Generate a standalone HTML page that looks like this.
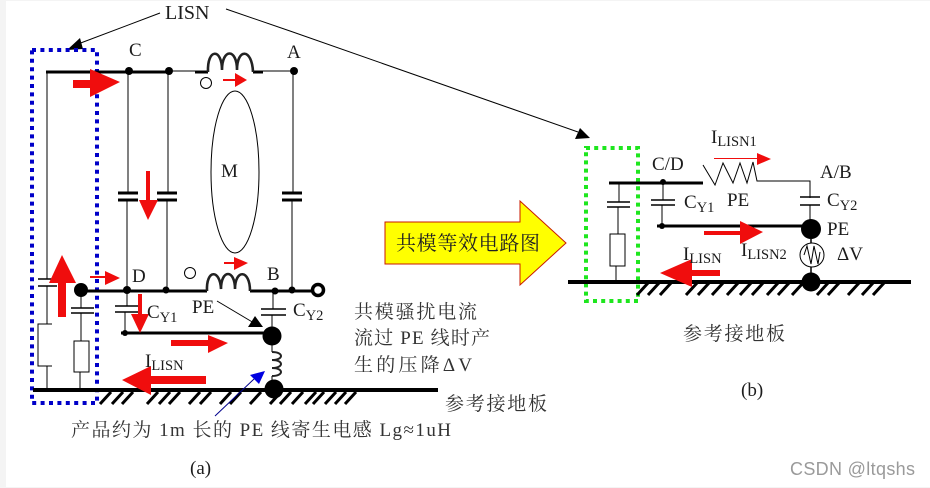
<!DOCTYPE html>
<html>
<head>
<meta charset="utf-8">
<style>
html,body{margin:0;padding:0;background:#fff;width:930px;height:488px;overflow:hidden}
svg{display:block}
text{font-family:"Liberation Serif","Noto Serif CJK SC",serif;fill:#1c1c1c}
.cn{font-size:19px;fill:#333}
.lb{font-size:19px}
.sub{font-size:14.5px}
</style>
</head>
<body>
<svg width="930" height="488" viewBox="0 0 930 488" xmlns="http://www.w3.org/2000/svg">
<rect width="930" height="488" fill="#fff"/>
<rect x="0" y="0" width="6" height="488" fill="#f4f4f4"/>
<rect x="0" y="0" width="930" height="1" fill="#f4f4f4"/>
<rect x="0" y="487" width="930" height="1" fill="#f4f4f4"/>

<!-- LISN pointers -->
<g fill="none" stroke="#000" stroke-width="1">
<path d="M160 13L78 44"/>
<path d="M226 9L290 31L578 132"/>
<path d="M128 71V192M127 201V290M168 71V192M167 201V290M293 71V192M292 201V290"/>
<path d="M47 72V279M47 286V324H38V366H47V388"/>
<path d="M47 324H52M47 366H52" stroke-width="1"/>
<path d="M81 291V308M81 313V341M80 372V388"/>
<path d="M127 291V306M125 312V333M273 291V309M272 315V330M272 344V352M272 376V382"/>
<path d="M168 71H195M253 71H294"/>
<ellipse cx="235" cy="172" rx="24" ry="81"/>
<circle cx="206" cy="83" r="5.5"/>
<circle cx="190" cy="273" r="5.5"/>
<rect x="74" y="341" width="15" height="31"/>
<path d="M217 301L254 323"/>
<path d="M38 279H57M38 286H57M71 308H94M71 313H94M115 306H139M115 312H139M261 309H286M261 315H286" stroke-width="1.5"/>
</g>
<path d="M67 50L80 38L83 49Z" fill="#000"/>
<path d="M590 138L580 128L575 139Z" fill="#000"/>

<!-- Blue dotted -->
<rect x="32" y="50" width="65" height="353" fill="none" stroke="#0000c8" stroke-width="4" stroke-dasharray="4 4.4"/>

<!-- Thick wires left -->
<g fill="none" stroke="#000" stroke-width="3">
<path d="M46 72H168"/>
<path d="M195 72H208M253 72H263"/>
<path d="M81 291H207M250 291H263" />
<path d="M263 291H312"/>
<path d="M121 333H270"/>
<path d="M33 390H438" stroke-width="4"/>
<path d="M118 193H138M118 200H138M157 193H177M157 200H177M282 193H302M282 200H302" stroke-width="3"/>
</g>
<g fill="none" stroke="#222" stroke-width="2.6">
<path d="M208 72C207 48 222 48 222 70C222 48 237 48 237 70C237 48 252 48 253 72"/>
<path d="M207 291C206 269 220 269 221 289C221 269 235 269 235 289C235 269 250 269 250 291"/>
<path d="M272 352C284 352 284 360 272 360C284 360 284 368 272 368C284 368 284 376 272 376" stroke-width="2"/>
</g>
<circle cx="318" cy="290" r="5.5" fill="#fff" stroke="#000" stroke-width="3.5"/>
<g fill="#000">
<circle cx="129" cy="71" r="4"/><circle cx="169" cy="71" r="4"/><circle cx="294" cy="71" r="4"/>
<circle cx="81" cy="290" r="7"/><circle cx="127" cy="290" r="4"/><circle cx="166" cy="290" r="3.5"/>
<circle cx="275" cy="291" r="3.5"/><circle cx="292" cy="290" r="3.5"/>
<circle cx="125" cy="333" r="3"/><circle cx="272" cy="336" r="9.5"/><circle cx="274" cy="389" r="9.5"/>
<path d="M255 316L248 327H263Z"/>
</g>

<!-- Hatches left -->
<path d="M100 404l11-12M112 404l11-12M122 404l11-12M147 404l11-12M159 404l11-12M169 404l11-12M189 404l11-12M200 404l11-12M220 404l11-12M230 404l11-12M250 404l11-12M270 404l11-12M280 404l11-12M292 404l11-12M305 404l11-12M313 404l11-12M325 404l11-12M335 404l11-12M345 404l11-12" stroke="#000" stroke-width="3" fill="none"/>

<!-- Blue arrow -->
<path d="M215 416L254 379" stroke="#00008c" stroke-width="1" fill="none"/>
<path d="M265 371L250 375L259 384Z" fill="#0000e0"/>

<!-- Red arrows left -->
<g fill="#f00d0d">
<path d="M73 80H90V69L120 82L90 97V88H73Z"/>
<path d="M146 171H150V200H158L148 220L139 200H146Z"/>
<path d="M223 79H235V73L247 80L235 87V81H223Z"/>
<path d="M224 262H234V257L248 263L234 270V264H224Z"/>
<path d="M90 276H105V271L120 278L105 285V278H90Z"/>
<path d="M62 255L76 283H66V317H58V283H49Z"/>
<path d="M138 294H142V314H149L140 333L131 314H138Z"/>
<path d="M171 340H208V335L228 343L208 353V346H171Z"/>
<path d="M206 376V384H151V395L122 380L151 366V376Z"/>
</g>

<!-- Left labels -->
<text x="165" y="19" font-size="20">LISN</text>
<text x="129" y="56" class="lb">C</text>
<text x="287" y="58" class="lb">A</text>
<text x="221" y="177" class="lb">M</text>
<text x="132" y="282" class="lb">D</text>
<text x="267" y="280" class="lb">B</text>
<text x="147" y="318" class="lb">C<tspan class="sub" dy="4">Y1</tspan></text>
<text x="293" y="316" class="lb">C<tspan class="sub" dy="4">Y2</tspan></text>
<text x="192" y="313" class="lb">PE</text>
<text x="145" y="367" class="lb">I<tspan class="sub" dy="3">LISN</tspan></text>
<text x="354" y="318" class="cn" textLength="123">共模骚扰电流</text>
<text x="354" y="344" class="cn" textLength="136">流过 PE 线时产</text>
<text x="354" y="371" class="cn" textLength="118">生的压降ΔV</text>
<text x="445" y="410" class="cn" textLength="102">参考接地板</text>
<text x="71" y="436" class="cn" textLength="380">产品约为 1m 长的 PE 线寄生电感 Lg≈1uH</text>
<text x="190" y="474" font-size="19">(a)</text>

<!-- Yellow arrow -->
<path d="M385 222H520V201L566 243L520 285V264H385Z" fill="#ffff00" stroke="#c81a00" stroke-width="1"/>
<text x="396" y="250" font-size="20" textLength="144" style="fill:#222">共模等效电路图</text>

<!-- Right circuit -->
<rect x="586" y="148" width="52" height="153" fill="none" stroke="#1ee61e" stroke-width="4" stroke-dasharray="4 4.2"/>
<g fill="none" stroke="#000" stroke-width="1">
<path d="M703 165L715 185L723 163L733 183L740 163L747 183L753 162L757 181H810V198M810 205V222"/>
<path d="M619 183V202M618 207V234M616 266V281"/>
<rect x="610" y="234" width="15" height="32"/>
<path d="M663 183V200M662 205V226"/>
<path d="M607 202H630M607 207H630M651 200H675M651 205H675M800 197H820M800 205H820" stroke-width="1.5"/>
<path d="M811 239V243M811 267V273" stroke-width="1.5"/>
<circle cx="812" cy="255" r="12"/>
<path d="M804 255L807 246L811 264L814 246L818 264L820 252"/>
</g>
<g fill="none" stroke="#000" stroke-width="3">
<path d="M609 183H703"/>
<path d="M657 226H805"/>
<path d="M568 282H911" stroke-width="4"/>
</g>
<g fill="#000">
<circle cx="663" cy="182" r="3"/><circle cx="662" cy="226" r="3"/>
<circle cx="811" cy="229" r="10"/><circle cx="811" cy="282" r="9.5"/>
</g>
<path d="M637 295l11-12M648 295l11-12M660 295l11-12M686 295l11-12M698 295l11-12M712 295l11-12M727 295l11-12M740 295l11-12M752 295l11-12M767 295l11-12M778 295l11-12M792 295l11-12M817 295l11-12M828 295l11-12M848 295l11-12M862 295l11-12M873 295l11-12" stroke="#000" stroke-width="3" fill="none"/>
<g fill="#f00d0d">
<path d="M714 158H757V153L771 159L757 165V159H714Z"/>
<path d="M704 231H740V221L763 232L740 244V235H704Z"/>
<path d="M720 270V276H692V287L660 273L692 259V270Z"/>
</g>
<text x="711" y="143" class="lb">I<tspan class="sub" dy="3">LISN1</tspan></text>
<text x="652" y="170" class="lb">C/D</text>
<text x="684" y="208" class="lb">C<tspan class="sub" dy="4">Y1</tspan></text>
<text x="727" y="206" class="lb">PE</text>
<text x="820" y="178" class="lb">A/B</text>
<text x="827" y="206" class="lb">C<tspan class="sub" dy="4">Y2</tspan></text>
<text x="827" y="235" class="lb">PE</text>
<text x="741" y="256" class="lb">I<tspan class="sub" dy="3">LISN2</tspan></text>
<text x="683" y="260" class="lb">I<tspan class="sub" dy="3">LISN</tspan></text>
<text x="837" y="260" class="lb">ΔV</text>
<text x="683" y="340" class="cn" textLength="102">参考接地板</text>
<text x="741" y="396" font-size="19">(b)</text>

<text x="790" y="475" font-size="18" textLength="125" style="font-family:'Liberation Sans',sans-serif;fill:#9a9a9a">CSDN @ltqshs</text>
</svg>
</body>
</html>
